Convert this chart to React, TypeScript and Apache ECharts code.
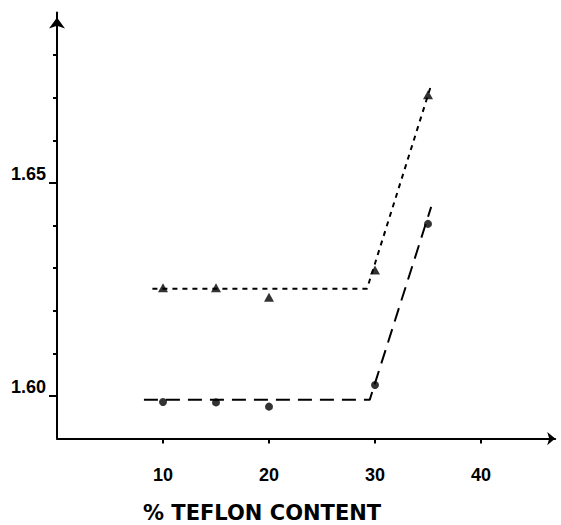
import React, { useEffect, useRef } from "react";
import * as echarts from "echarts";

// Teflon content (%) at each measured point
const teflonPct = [10, 15, 20, 30, 35];
// Triangle series values
const triangleValues = [1.6254, 1.6254, 1.6232, 1.6296, 1.6707];
// Circle series values
const circleValues = [1.5986, 1.5985, 1.5975, 1.6026, 1.6404];

// Hand-fitted trend lines (x, y breakpoints)
const triangleFitX = [9.0, 29.25, 35.3];
const triangleFitY = [1.6252, 1.6252, 1.673];
const circleFitX = [8.2, 29.5, 35.3];
const circleFitY = [1.5991, 1.5991, 1.6444];

// Axis ticks and labels
const xTickValues = [10, 20, 30, 40];
const yMajorTicks = [1.6, 1.65];
const yMinorTicks = [1.61, 1.62, 1.63, 1.64, 1.66, 1.67, 1.68];

const xTitle = "% TEFLON CONTENT";

const zip = (xs: number[], ys: number[]) => xs.map((x, i) => [x, ys[i]]);

export default function App() {
  const ref = useRef<HTMLDivElement>(null);

  useEffect(() => {
    if (!ref.current) return;
    const chart = echarts.init(ref.current, null, { renderer: "svg" });
    const labelFont = {
      color: "#000",
      fontFamily: '"Liberation Sans", Arial, sans-serif',
      fontWeight: "bold" as const,
      fontSize: 18,
    };
    const axisLineStyle = { color: "#000", width: 2 };

    chart.setOption({
      animation: false,
      backgroundColor: "#fff",
      grid: { left: 57, top: 12.6, width: 498.2, height: 426, containLabel: false },
      xAxis: {
        type: "value",
        min: 0,
        max: 47,
        axisLine: {
          show: true,
          onZero: false,
          lineStyle: axisLineStyle,
          symbol: ["none", "arrow"],
          symbolSize: [10, 8],
        },
        axisTick: {
          show: true,
          inside: false,
          length: 5,
          customValues: xTickValues,
          lineStyle: { color: "#000", width: 2 },
        },
        axisLabel: {
          show: true,
          customValues: xTickValues,
          margin: 27,
          ...labelFont,
        },
        splitLine: { show: false },
      },
      yAxis: [
        {
          type: "value",
          min: 1.59,
          max: 1.69,
          axisLine: {
            show: true,
            onZero: false,
            lineStyle: axisLineStyle,
            symbol: ["none", "arrow"],
            symbolSize: [12, 11],
            symbolOffset: [0, -5],
          },
          axisTick: {
            show: true,
            length: 4,
            customValues: yMinorTicks,
            lineStyle: { color: "#000", width: 2 },
          },
          axisLabel: { show: false },
          splitLine: { show: false },
        },
        {
          type: "value",
          min: 1.59,
          max: 1.69,
          position: "left",
          axisLine: { show: false },
          axisTick: {
            show: true,
            length: 8,
            customValues: yMajorTicks,
            lineStyle: { color: "#000", width: 2 },
          },
          axisLabel: {
            show: true,
            customValues: yMajorTicks,
            margin: 11,
            verticalAlign: "bottom",
            lineHeight: 18,
            formatter: (v: number) => v.toFixed(2),
            ...labelFont,
          },
          splitLine: { show: false },
        },
      ],
      graphic: [
        {
          type: "text",
          x: 143,
          y: 513,
          style: {
            text: xTitle,
            fill: "#000",
            font: 'bold 21px "DejaVu Sans", sans-serif',
            textVerticalAlign: "middle",
          },
        },
      ],
      series: [
        {
          type: "line",
          data: zip(triangleFitX, triangleFitY),
          symbol: "none",
          lineStyle: { color: "#000", width: 2, type: [5, 5] },
          silent: true,
        },
        {
          type: "line",
          data: zip(circleFitX, circleFitY),
          symbol: "none",
          lineStyle: { color: "#000", width: 2, type: [14, 8] },
          silent: true,
        },
        {
          type: "scatter",
          data: zip(teflonPct, triangleValues),
          symbol: "triangle",
          symbolSize: [10, 9],
          itemStyle: { color: "#000" },
        },
        {
          type: "scatter",
          data: zip(teflonPct, circleValues),
          symbol: "circle",
          symbolSize: 8,
          itemStyle: { color: "#000" },
        },
      ],
    });
    return () => chart.dispose();
  }, []);

  return (
    <div
      ref={ref}
      style={{ position: "fixed", left: 0, top: 0, width: 561, height: 525, background: "#fff" }}
    />
  );
}
